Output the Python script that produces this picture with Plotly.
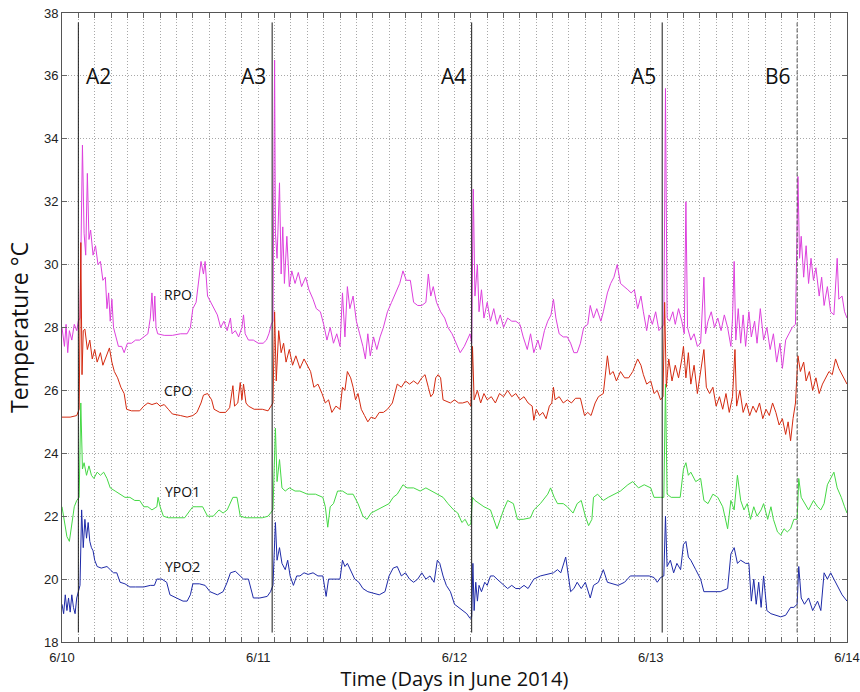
import plotly.graph_objects as go

# ---------------- data (time in hours from 6/10 00:00, temperature in deg C) ----------------
rpo = [(0, 28.0), (0.3, 27.4), (0.5, 28.1), (0.7, 27.2), (0.9, 27.9), (1.2, 27.6), (1.5, 28.1), (1.8, 27.9),
       (2.0, 28.2), (2.2, 28.3), (2.5, 33.8), (2.7, 31.0), (2.9, 30.3), (3.1, 32.9), (3.3, 30.8), (3.5, 31.1),
       (3.8, 30.3), (4.1, 30.6), (4.4, 30.0), (4.7, 30.1), (5.0, 29.5), (5.3, 29.6), (5.5, 28.6), (5.7, 29.1),
       (5.9, 28.2), (6.1, 28.9), (6.3, 28.0), (6.6, 27.7), (6.9, 27.4), (7.3, 27.4), (7.6, 27.2), (8.0, 27.5),
       (8.5, 27.5), (9.0, 27.6), (9.5, 27.6), (10.0, 27.7), (10.5, 27.8), (10.8, 28.3), (11.0, 29.1), (11.2, 28.2),
       (11.35, 29.0), (11.5, 28.0), (11.7, 27.8), (12.5, 27.75), (13.5, 27.75), (14.5, 27.8), (15.3, 27.8),
       (15.7, 28.0), (16.0, 28.6), (16.4, 28.8), (16.8, 29.8), (17.0, 30.1), (17.3, 29.7), (17.5, 30.1),
       (17.8, 29.0), (18.2, 28.8), (18.6, 28.6), (19.0, 28.4), (19.4, 28.0), (19.8, 28.2), (20.2, 27.9),
       (20.6, 28.3), (20.8, 27.8), (21.2, 27.9), (21.6, 27.7), (22.0, 28.0), (22.2, 28.4), (22.4, 27.8),
       (22.8, 27.6), (23.4, 27.6), (24.0, 27.5), (24.6, 27.5), (25.0, 27.6), (25.3, 27.8), (25.6, 28.1),
       (25.8, 28.2), (26.0, 36.5), (26.1, 31.0), (26.3, 30.2), (26.6, 32.6), (26.8, 29.7), (27.0, 31.2),
       (27.2, 29.4), (27.5, 30.9), (27.8, 29.3), (28.1, 29.8), (28.5, 29.4), (28.9, 29.75), (29.3, 29.3),
       (29.8, 29.6), (30.2, 29.2), (30.7, 28.9), (31.1, 28.6), (31.6, 28.5), (32.0, 28.1), (32.4, 27.6),
       (32.8, 28.0), (33.2, 27.5), (33.6, 27.8), (34.0, 27.4), (34.3, 29.1), (34.6, 27.7), (34.9, 29.3),
       (35.2, 28.6), (35.6, 29.0), (36.0, 28.2), (36.4, 27.8), (36.8, 27.4), (37.1, 27.0), (37.4, 27.8),
       (37.7, 27.1), (38.1, 27.7), (38.5, 27.3), (38.9, 27.7), (39.3, 28.0), (39.8, 28.5), (40.3, 28.8),
       (40.8, 29.1), (41.3, 29.4), (41.7, 29.8), (42.1, 29.5), (42.6, 29.5), (43.0, 28.8), (43.5, 28.7),
       (44.0, 28.7), (44.5, 28.8), (44.8, 29.7), (45.1, 29.0), (45.4, 29.3), (45.8, 28.8), (46.3, 28.5),
       (46.8, 28.3), (47.2, 28.0), (47.7, 27.8), (48.2, 27.5), (48.7, 27.2), (49.2, 27.4), (49.6, 27.6),
       (49.9, 27.8), (50.1, 27.5), (50.3, 32.4), (50.5, 29.0), (50.8, 30.0), (51.0, 28.5), (51.3, 29.2),
       (51.6, 28.3), (52.0, 28.8), (52.4, 28.2), (52.8, 28.6), (53.2, 28.1), (53.6, 28.4), (54.0, 28.0),
       (54.5, 28.3), (55.0, 28.2), (55.5, 28.2), (56.0, 28.1), (56.4, 27.7), (56.9, 27.3), (57.3, 27.8),
       (57.7, 27.2), (58.2, 27.6), (58.5, 27.3), (59.0, 27.9), (59.4, 28.2), (59.8, 28.4), (60.1, 28.9),
       (60.4, 28.3), (60.8, 27.8), (61.3, 27.7), (61.8, 27.7), (62.2, 27.5), (62.6, 27.2), (63.0, 27.2),
       (63.4, 27.5), (63.8, 28.0), (64.3, 28.1), (64.6, 28.7), (65.0, 28.3), (65.4, 28.6), (65.9, 28.2),
       (66.2, 28.5), (66.7, 29.1), (67.1, 29.4), (67.5, 29.6), (67.9, 30.0), (68.3, 29.4), (68.8, 29.3),
       (69.2, 29.2), (69.6, 29.1), (70.0, 29.2), (70.4, 28.6), (70.8, 29.0), (71.1, 28.5), (71.5, 27.9),
       (71.8, 28.4), (72.2, 28.1), (72.6, 28.5), (73.0, 27.9), (73.3, 28.0), (73.6, 28.1), (73.8, 35.6),
       (74.0, 28.3), (74.3, 28.2), (74.7, 28.5), (75.0, 28.1), (75.4, 28.6), (75.8, 28.2), (76.1, 27.8),
       (76.3, 32.0), (76.5, 28.0), (76.9, 27.6), (77.3, 27.8), (77.7, 27.4), (78.1, 27.5), (78.5, 29.6),
       (78.7, 27.8), (79.0, 28.2), (79.4, 28.5), (79.8, 28.0), (80.2, 28.3), (80.6, 27.9), (81.0, 28.4),
       (81.4, 28.0), (81.8, 27.4), (82.0, 28.3), (82.2, 30.1), (82.4, 27.6), (82.7, 28.6), (83.0, 27.5),
       (83.3, 28.4), (83.6, 27.4), (84.0, 28.5), (84.3, 27.7), (84.7, 28.2), (85.0, 27.5), (85.4, 28.6),
       (85.8, 27.6), (86.2, 28.0), (86.6, 27.3), (87.0, 27.8), (87.4, 26.9), (87.8, 27.5), (88.1, 26.7),
       (88.5, 27.6), (88.9, 27.8), (89.3, 28.0), (89.7, 28.1), (90.0, 32.8), (90.2, 30.2), (90.4, 30.9),
       (90.7, 29.6), (91.0, 30.6), (91.3, 29.4), (91.6, 30.2), (91.9, 29.5), (92.2, 29.9), (92.6, 29.0),
       (92.9, 29.6), (93.2, 28.7), (93.6, 29.3), (94.0, 28.5), (94.4, 28.4), (94.8, 30.2), (95.0, 28.9),
       (95.4, 29.0), (95.7, 28.5), (96.0, 28.3)]

cpo = [(0, 25.15), (1.0, 25.15), (1.8, 25.2), (2.1, 25.4), (2.3, 30.7), (2.45, 26.5), (2.6, 27.9), (2.8, 27.95),
       (3.1, 27.3), (3.4, 27.6), (3.7, 27.0), (4.0, 27.3), (4.3, 26.9), (4.7, 27.2), (5.0, 26.8), (5.4, 27.1),
       (5.8, 27.35), (6.1, 26.9), (6.4, 26.6), (6.8, 26.4), (7.2, 26.1), (7.6, 25.9), (7.9, 25.4), (8.5, 25.35),
       (9.5, 25.35), (10.0, 25.5), (10.5, 25.6), (11.0, 25.55), (11.6, 25.6), (12.0, 25.5), (12.5, 25.55),
       (13.0, 25.4), (13.5, 25.25), (14.5, 25.2), (15.3, 25.15), (16.0, 25.2), (16.5, 25.3), (17.0, 25.6),
       (17.3, 25.85), (17.8, 25.9), (18.3, 25.7), (18.6, 25.4), (19.3, 25.3), (20.0, 25.3), (20.5, 25.45),
       (20.9, 26.15), (21.1, 25.5), (21.5, 25.6), (21.8, 26.25), (22.0, 25.7), (22.2, 26.2), (22.5, 25.6),
       (22.8, 25.5), (23.5, 25.4), (24.5, 25.4), (25.2, 25.35), (25.6, 25.5), (25.8, 25.6), (26.0, 28.5),
       (26.2, 26.3), (26.5, 27.9), (26.8, 27.2), (27.1, 27.5), (27.4, 26.9), (27.8, 27.3), (28.2, 26.8),
       (28.6, 27.1), (29.1, 26.7), (29.6, 27.0), (30.0, 26.8), (30.4, 26.6), (30.8, 26.1), (31.3, 26.2),
       (31.8, 25.9), (32.2, 25.6), (32.6, 25.7), (33.0, 25.3), (33.5, 25.5), (34.0, 25.4), (34.3, 26.1),
       (34.6, 26.0), (34.9, 26.6), (35.3, 26.4), (35.6, 26.1), (35.9, 25.7), (36.2, 25.9), (36.6, 25.4),
       (37.0, 25.2), (37.4, 25.0), (37.8, 25.15), (38.3, 25.1), (38.8, 25.3), (39.3, 25.3), (39.8, 25.4),
       (40.4, 25.6), (41.0, 26.2), (41.5, 26.1), (42.0, 26.3), (42.5, 26.2), (43.0, 26.3), (43.5, 26.2),
       (44.0, 26.4), (44.4, 26.5), (44.8, 26.1), (45.1, 25.8), (45.4, 25.9), (45.7, 26.4), (46.0, 26.5),
       (46.3, 26.4), (46.6, 25.7), (47.0, 25.65), (47.5, 25.6), (48.0, 25.7), (48.5, 25.6), (49.0, 25.6),
       (49.6, 25.65), (50.0, 25.5), (50.2, 27.4), (50.4, 25.7), (50.8, 26.0), (51.2, 25.6), (51.6, 25.9),
       (52.0, 25.7), (52.5, 25.8), (53.0, 25.6), (53.5, 25.9), (54.0, 25.8), (54.5, 26.0), (55.0, 25.8),
       (55.5, 25.9), (56.0, 25.7), (56.5, 25.8), (57.0, 25.6), (57.5, 25.5), (57.7, 25.05), (58.0, 25.4),
       (58.4, 25.2), (58.8, 25.3), (59.2, 25.1), (59.6, 25.5), (59.9, 25.6), (60.1, 26.1), (60.3, 25.7),
       (60.8, 25.8), (61.3, 25.6), (61.8, 25.7), (62.3, 25.6), (62.8, 25.75), (63.4, 25.75), (63.9, 25.2),
       (64.3, 25.3), (64.7, 25.2), (65.2, 25.6), (65.6, 25.8), (66.2, 25.9), (66.7, 27.1), (67.0, 26.5),
       (67.4, 26.6), (67.8, 26.3), (68.3, 26.6), (68.8, 26.4), (69.3, 26.4), (69.8, 26.6), (70.4, 27.0),
       (70.8, 26.8), (71.1, 26.5), (71.5, 26.2), (72.0, 26.3), (72.4, 25.9), (72.8, 26.0), (73.2, 25.7),
       (73.5, 25.8), (73.7, 28.8), (73.9, 26.1), (74.2, 27.0), (74.6, 26.3), (75.0, 26.8), (75.4, 26.4),
       (75.8, 27.0), (76.0, 27.4), (76.3, 26.4), (76.6, 27.2), (76.9, 26.2), (77.3, 26.8), (77.7, 25.9),
       (78.1, 26.6), (78.5, 27.3), (78.8, 26.1), (79.2, 25.9), (79.6, 26.1), (80.0, 25.5), (80.4, 25.8),
       (80.8, 25.4), (81.2, 25.9), (81.6, 25.3), (82.0, 25.8), (82.3, 27.3), (82.5, 25.5), (82.9, 26.0),
       (83.3, 25.3), (83.7, 25.6), (84.1, 25.2), (84.5, 25.5), (84.9, 25.3), (85.3, 25.6), (85.7, 25.1),
       (86.1, 25.4), (86.5, 25.2), (86.9, 25.6), (87.3, 25.3), (87.7, 24.9), (88.1, 25.1), (88.5, 24.6),
       (88.8, 25.0), (89.1, 24.4), (89.4, 25.1), (89.7, 25.6), (90.0, 27.1), (90.3, 26.6), (90.7, 26.9),
       (91.0, 26.3), (91.4, 26.6), (91.8, 26.0), (92.2, 26.4), (92.6, 25.9), (93.0, 26.2), (93.4, 26.4),
       (93.8, 26.6), (94.2, 26.5), (94.6, 27.0), (95.0, 26.7), (95.4, 26.5), (95.8, 26.3), (96.0, 26.2)]

ypo1 = [(0, 22.3), (0.3, 21.8), (0.6, 21.35), (0.9, 21.2), (1.2, 21.8), (1.5, 22.3), (1.8, 22.5), (2.1, 22.6),
        (2.3, 25.6), (2.5, 23.5), (2.7, 23.7), (3.0, 23.3), (3.3, 23.6), (3.6, 23.3), (3.9, 23.2), (4.3, 23.4),
        (4.7, 23.3), (5.1, 23.4), (5.5, 23.2), (5.9, 22.9), (6.5, 22.8), (7.1, 22.7), (7.7, 22.6), (8.3, 22.6),
        (8.9, 22.5), (9.5, 22.5), (10.0, 22.3), (10.5, 22.3), (11.0, 22.2), (11.6, 22.3), (11.75, 22.6),
        (12.0, 22.3), (12.4, 22.0), (13.0, 21.95), (14.0, 21.95), (15.0, 21.95), (15.7, 22.2), (16.0, 22.3),
        (16.5, 22.3), (17.2, 22.3), (17.8, 22.0), (18.5, 22.0), (19.2, 22.2), (19.7, 22.1), (20.2, 22.2),
        (20.9, 22.6), (21.4, 22.6), (21.8, 22.0), (22.5, 21.95), (23.5, 21.95), (24.5, 21.95), (25.2, 22.0),
        (25.5, 22.1), (25.8, 22.2), (26.1, 24.8), (26.3, 23.1), (26.6, 23.8), (26.9, 22.9), (27.3, 22.8),
        (27.8, 22.9), (28.5, 22.8), (29.1, 22.8), (30.0, 22.7), (31.0, 22.7), (31.9, 22.6), (32.2, 22.3),
        (32.5, 21.65), (32.8, 22.3), (33.2, 22.4), (33.7, 22.8), (34.3, 22.8), (34.9, 22.7), (35.6, 22.7),
        (36.2, 22.4), (36.8, 22.0), (37.3, 21.9), (37.8, 22.1), (38.5, 22.2), (39.3, 22.3), (40.0, 22.4),
        (40.5, 22.6), (41.0, 22.7), (41.7, 23.0), (42.2, 22.9), (43.0, 22.9), (43.8, 22.8), (44.5, 22.9),
        (45.2, 22.8), (46.0, 22.7), (46.6, 22.6), (47.2, 22.4), (47.9, 22.2), (48.4, 22.1), (48.9, 21.8),
        (49.3, 21.9), (49.7, 21.7), (50.0, 21.75), (50.2, 22.6), (50.5, 22.5), (51.0, 22.4), (51.6, 22.3),
        (52.4, 22.2), (52.9, 21.8), (53.2, 21.6), (53.6, 21.9), (54.0, 22.2), (54.5, 22.5), (55.2, 22.4),
        (55.7, 21.9), (56.4, 21.9), (57.3, 21.95), (57.7, 22.2), (58.5, 22.4), (59.4, 22.7), (59.75, 22.9),
        (60.2, 22.6), (60.6, 22.4), (61.3, 22.4), (61.8, 22.3), (62.5, 22.1), (63.0, 22.4), (63.5, 22.5),
        (64.0, 22.0), (64.4, 21.7), (64.8, 21.9), (65.0, 22.6), (65.5, 22.7), (66.2, 22.5), (66.8, 22.6),
        (67.5, 22.7), (68.3, 22.8), (69.2, 23.0), (69.8, 23.1), (70.5, 22.9), (71.2, 23.0), (72.0, 22.9),
        (72.4, 22.6), (73.2, 22.6), (73.6, 22.6), (73.8, 26.2), (74.0, 22.7), (74.5, 22.6), (75.0, 22.6),
        (75.6, 22.6), (76.0, 23.5), (76.3, 23.7), (76.6, 23.3), (76.9, 23.4), (77.5, 23.1), (78.1, 23.2),
        (78.5, 22.5), (79.0, 22.4), (79.6, 22.7), (80.2, 22.6), (80.8, 22.3), (81.4, 21.6), (81.8, 22.5),
        (82.2, 22.2), (82.6, 23.3), (83.0, 22.5), (83.4, 22.2), (83.8, 22.4), (84.2, 21.9), (84.6, 22.3),
        (85.0, 22.0), (85.5, 22.2), (85.8, 22.4), (86.3, 21.9), (86.7, 22.3), (87.0, 21.9), (87.5, 21.5),
        (87.9, 21.4), (88.3, 21.6), (88.7, 21.5), (89.1, 21.6), (89.5, 21.9), (89.9, 21.9), (90.1, 23.2),
        (90.4, 22.6), (90.8, 22.4), (91.3, 22.2), (91.9, 22.5), (92.4, 22.3), (92.8, 22.2), (93.2, 22.4),
        (93.6, 23.0), (94.0, 23.2), (94.4, 23.4), (94.8, 22.9), (95.3, 22.6), (95.7, 22.3), (96.0, 22.1)]

ypo2 = [(0, 19.2), (0.2, 18.9), (0.4, 19.5), (0.6, 19.0), (0.8, 19.4), (1.0, 18.95), (1.2, 19.5), (1.4, 19.1),
        (1.6, 18.9), (1.8, 19.4), (2.0, 19.6), (2.2, 19.8), (2.4, 22.2), (2.6, 21.0), (2.8, 21.9), (3.0, 21.3),
        (3.2, 21.8), (3.4, 21.2), (3.6, 21.0), (3.8, 20.9), (4.0, 20.6), (4.3, 20.4), (4.8, 20.35), (5.5, 20.4),
        (5.9, 20.3), (6.3, 20.2), (6.7, 20.2), (7.1, 19.9), (7.7, 19.85), (8.3, 19.75), (9.0, 19.75),
        (10.0, 19.75), (10.8, 19.8), (11.3, 19.8), (11.6, 20.0), (12.2, 20.0), (12.8, 19.9), (13.2, 19.5),
        (14.0, 19.4), (14.8, 19.3), (15.3, 19.3), (15.7, 19.5), (16.0, 19.85), (16.8, 19.85), (17.5, 19.8),
        (18.1, 19.6), (19.0, 19.5), (19.7, 19.6), (20.2, 19.9), (20.6, 20.2), (21.2, 20.25), (21.8, 20.1),
        (22.2, 20.0), (22.8, 20.0), (23.4, 19.4), (24.2, 19.4), (25.1, 19.45), (25.5, 19.6), (25.8, 19.8),
        (26.1, 21.8), (26.3, 20.6), (26.6, 21.0), (26.9, 20.5), (27.3, 20.3), (27.6, 20.6), (27.9, 20.1),
        (28.3, 19.8), (28.7, 20.1), (29.1, 20.1), (29.6, 20.2), (30.1, 20.15), (30.7, 20.2), (31.3, 20.1),
        (31.9, 20.1), (32.3, 19.45), (32.6, 20.0), (33.2, 20.0), (34.0, 20.0), (34.3, 20.6), (34.6, 20.4),
        (34.9, 20.5), (35.3, 20.3), (35.8, 20.0), (36.3, 19.9), (36.8, 19.7), (37.4, 19.6), (38.1, 19.55),
        (38.8, 19.5), (39.5, 19.6), (40.0, 20.1), (40.5, 20.35), (41.0, 20.4), (41.5, 20.1), (42.0, 20.2),
        (42.5, 20.0), (43.0, 19.9), (43.5, 20.0), (44.0, 20.2), (44.5, 20.0), (45.0, 20.1), (45.5, 19.9),
        (45.9, 20.6), (46.2, 20.5), (46.6, 20.1), (47.0, 19.8), (47.5, 19.6), (48.0, 19.2), (48.5, 19.1),
        (49.0, 19.0), (49.5, 18.9), (49.9, 18.75), (50.1, 18.8), (50.25, 20.5), (50.4, 19.0), (50.6, 19.9),
        (50.8, 19.3), (51.0, 19.8), (51.3, 19.6), (51.7, 19.9), (52.0, 19.8), (52.4, 20.1), (52.8, 20.1),
        (53.2, 20.0), (53.6, 19.9), (54.0, 19.8), (54.5, 19.7), (55.0, 19.8), (55.5, 19.7), (56.0, 19.7),
        (56.5, 19.8), (57.0, 19.7), (57.7, 20.0), (58.5, 20.1), (59.4, 20.15), (60.1, 20.2), (60.6, 20.3),
        (61.0, 20.2), (61.6, 20.7), (62.0, 20.0), (62.2, 19.6), (62.6, 19.7), (63.0, 19.9), (63.5, 19.7),
        (64.0, 19.9), (64.6, 19.4), (65.0, 19.8), (65.6, 19.9), (66.2, 20.3), (66.7, 19.9), (67.3, 19.85),
        (68.0, 19.8), (68.8, 19.9), (69.5, 20.1), (70.3, 20.1), (71.1, 20.1), (71.8, 20.1), (72.4, 20.05),
        (72.8, 19.9), (73.2, 20.05), (73.6, 20.1), (73.8, 22.0), (74.0, 20.4), (74.4, 20.6), (74.8, 20.2),
        (75.2, 20.5), (75.65, 20.3), (76.0, 21.1), (76.3, 21.2), (76.6, 20.7), (76.9, 20.6), (77.5, 20.3),
        (78.1, 20.0), (78.5, 19.6), (79.5, 19.6), (80.5, 19.6), (81.4, 19.7), (81.8, 20.8), (82.2, 21.0),
        (82.6, 20.5), (83.0, 20.6), (83.6, 20.5), (84.0, 20.5), (84.3, 19.3), (84.6, 20.0), (84.9, 19.2),
        (85.2, 19.9), (85.5, 19.1), (85.8, 20.1), (86.2, 19.0), (86.7, 18.9), (87.3, 18.85), (87.9, 18.8),
        (88.5, 18.85), (89.1, 19.1), (89.5, 19.1), (89.9, 19.2), (90.1, 20.4), (90.4, 19.4), (90.8, 19.2),
        (91.3, 19.4), (91.8, 19.0), (92.4, 19.3), (92.8, 19.0), (93.2, 20.2), (93.6, 20.0), (94.0, 20.2),
        (94.4, 20.0), (94.8, 19.8), (95.4, 19.5), (96.0, 19.3)]

series_names = ["RPO", "CPO", "YPO1", "YPO2"]
series_data = [rpo, cpo, ypo1, ypo2]
series_colors = ["#DD40DD", "#D42A10", "#44D844", "#1E2AA8"]
series_label_pos = [(14.2, 29.05), (14.2, 26.0), (14.7, 22.8), (14.7, 20.4)]

event_names = ["A2", "A3", "A4", "A5", "B6"]
event_hours = [2.0, 25.7, 50.1, 73.4, 89.9]
event_dash = ["solid", "solid", "solid", "solid", "dash"]
event_side = ["right", "left", "left", "left", "left"]

day_ticks = [0, 24, 48, 72, 96]
day_labels = ["6/10", "6/11", "6/12", "6/13", "6/14"]

# ---------------- figure ----------------
fig = go.Figure()

for name, data, color in zip(series_names, series_data, series_colors):
    fig.add_trace(go.Scatter(x=[p[0] for p in data], y=[p[1] for p in data], mode="lines",
                             name=name, line=dict(color=color, width=1.0), showlegend=False))

for name, h, dash, side in zip(event_names, event_hours, event_dash, event_side):
    fig.add_shape(type="line", x0=h, x1=h, y0=18.3, y1=37.7, xref="x", yref="y",
                  line=dict(color="#1a1a1a" if dash == "solid" else "#555555", width=1,
                            dash="solid" if dash == "solid" else "4px,2px"))
    fig.add_annotation(x=h, y=36.0, text=name, showarrow=False,
                       xanchor="left" if side == "right" else "right",
                       xshift=6 if side == "right" else -4,
                       font=dict(family="Open Sans, sans-serif", size=21, color="#111111"))

for name, (lx, ly) in zip(series_names, series_label_pos):
    fig.add_annotation(x=lx, y=ly, text=name, showarrow=False,
                       font=dict(family="Open Sans, sans-serif", size=14, color="#111111"))

tickvals = list(range(0, 97, 2))
ticktext = [day_labels[day_ticks.index(v)] if v in day_ticks else "" for v in tickvals]

fig.update_layout(
    width=860, height=692,
    margin=dict(l=62, r=13, t=13, b=50),
    paper_bgcolor="white", plot_bgcolor="white",
    font=dict(family="Liberation Sans, Arial, sans-serif", size=13, color="#222222"),
    xaxis=dict(range=[0, 96], tickmode="array", tickvals=tickvals, ticktext=ticktext,
               showgrid=True, gridcolor="#a8a8a8", griddash="1px,2px", gridwidth=1,
               ticks="inside", ticklen=5, tickcolor="#666666", showline=True, linecolor="#555555",
               linewidth=1, mirror="ticks", zeroline=False, automargin=False, ticklabelstandoff=3,
               title=dict(text="Time (Days in June 2014)", standoff=4,
                          font=dict(family="Open Sans, sans-serif", size=20, color="#111111"))),
    yaxis=dict(range=[18, 38], tickmode="linear", tick0=18, dtick=2,
               showgrid=True, gridcolor="#a8a8a8", griddash="1px,2px", gridwidth=1,
               ticks="inside", ticklen=5, tickcolor="#666666", showline=True, linecolor="#555555",
               linewidth=1, mirror="ticks", zeroline=False, automargin=False,
               title=dict(text="Temperature °C", standoff=8,
                          font=dict(family="Open Sans, sans-serif", size=23, color="#111111"))),
)

fig.write_html("out.html")
